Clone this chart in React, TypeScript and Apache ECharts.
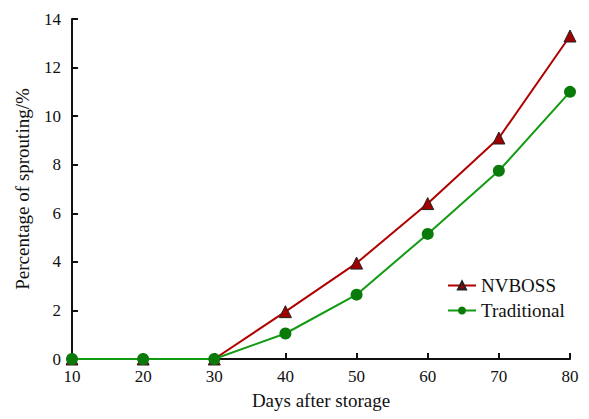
import React, { useEffect, useRef } from "react";
import * as echarts from "echarts";

const days = [10, 20, 30, 40, 50, 60, 70, 80];
const nvboss = [0, 0, 0, 1.95, 3.95, 6.4, 9.1, 13.3];
const traditional = [0, 0, 0, 1.05, 2.65, 5.15, 7.75, 11.0];

const FONT = "'Liberation Serif', 'Times New Roman', serif";

export default function App() {
  const ref = useRef<HTMLDivElement>(null);
  useEffect(() => {
    const chart = echarts.init(ref.current!, null, { renderer: "svg" });
    chart.setOption({
      animation: false,
      textStyle: { fontFamily: FONT },
      grid: { left: 64, right: 11, top: 11, bottom: 52, outerBoundsMode: "none", containLabel: false },
      legend: {
        orient: "vertical",
        left: 434,
        top: 263,
        itemWidth: 28,
        itemHeight: 10,
        itemGap: 6,
        textStyle: { fontFamily: FONT, fontSize: 19, color: "#111" },
        data: ["NVBOSS", "Traditional"],
      },
      xAxis: {
        type: "value",
        min: 10,
        max: 80,
        interval: 10,
        name: "Days after storage",
        nameLocation: "middle",
        nameGap: 32,
        nameTextStyle: { fontFamily: FONT, fontSize: 19, color: "#111" },
        axisLine: { lineStyle: { color: "#111", width: 2 } },
        axisTick: { inside: true, length: 6, lineStyle: { color: "#111", width: 2 } },
        axisLabel: { fontFamily: FONT, fontSize: 17, color: "#111", margin: 9 },
        splitLine: { show: false },
      },
      yAxis: {
        type: "value",
        min: 0,
        max: 14,
        interval: 2,
        name: "Percentage of sprouting/%",
        nameLocation: "middle",
        nameGap: 40,
        nameTextStyle: { fontFamily: FONT, fontSize: 19, color: "#111" },
        axisLine: { show: true, lineStyle: { color: "#111", width: 2 } },
        axisTick: { show: true, inside: true, length: 6, lineStyle: { color: "#111", width: 2 } },
        axisLabel: { fontFamily: FONT, fontSize: 17, color: "#111", margin: 11 },
        splitLine: { show: false },
      },
      series: [
        {
          name: "NVBOSS",
          type: "line",
          data: days.map((d, i) => [d, nvboss[i]]),
          symbol: "triangle",
          symbolSize: 12,
          lineStyle: { color: "#b00000", width: 2 },
          itemStyle: { color: "#a00000", borderColor: "#222", borderWidth: 1 },
        },
        {
          name: "Traditional",
          type: "line",
          data: days.map((d, i) => [d, traditional[i]]),
          symbol: "circle",
          symbolSize: 12,
          lineStyle: { color: "#129a12", width: 2 },
          itemStyle: { color: "#0a7a0a", borderColor: "#0a7a0a", borderWidth: 0 },
        },
      ],
    });
    return () => chart.dispose();
  }, []);
  return <div ref={ref} style={{ width: 573, height: 403 }} />;
}
